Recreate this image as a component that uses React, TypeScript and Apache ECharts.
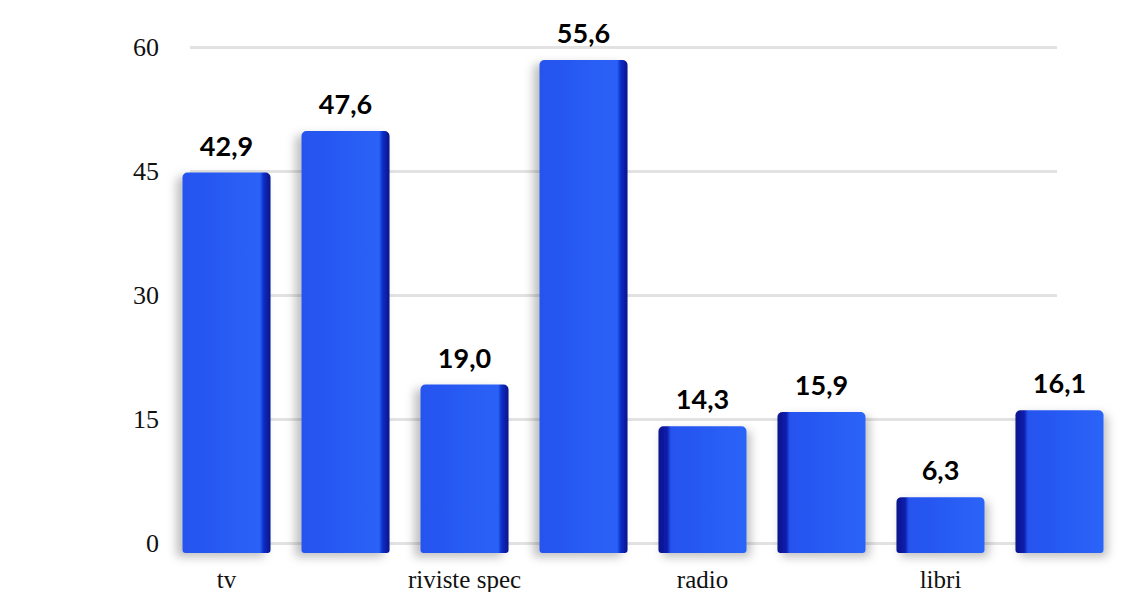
import React, { useEffect, useRef } from "react";
import * as echarts from "echarts";

const categories = ["tv", "", "riviste spec", "", "radio", "", "libri", ""];
const values = [42.9, 47.6, 19.0, 55.6, 14.3, 15.9, 6.3, 16.1];
const valueLabels = ["42,9", "47,6", "19,0", "55,6", "14,3", "15,9", "6,3", "16,1"];
const yTicks = [0, 15, 30, 45, 60];

function barColor(i: number) {
  const leftSide = i < 4;
  const stops = leftSide
    ? [
        { offset: 0, color: "#2553ee" },
        { offset: 0.88, color: "#2b62f7" },
        { offset: 0.92, color: "#1030c8" },
        { offset: 1, color: "#06118a" },
      ]
    : [
        { offset: 0, color: "#06118a" },
        { offset: 0.1, color: "#0c1fae" },
        { offset: 0.14, color: "#2553ee" },
        { offset: 1, color: "#2b64f8" },
      ];
  return new echarts.graphic.LinearGradient(0, 0, 1, 0, stops);
}

export default function App() {
  const ref = useRef<HTMLDivElement>(null);
  useEffect(() => {
    if (!ref.current) return;
    const chart = echarts.init(ref.current, null, { renderer: "svg" });
    chart.setOption({
      animation: false,
      backgroundColor: "#ffffff",
      grid: [
        { left: 190, right: 74, top: 47, bottom: 49 },
        { left: 167, right: 12, top: 21, bottom: 39 },
      ],
      xAxis: [
        {
          gridIndex: 0,
          type: "category",
          data: categories,
          show: false,
        },
        {
          gridIndex: 1,
          type: "category",
          data: categories,
          axisLine: { show: false },
          axisTick: { show: false },
          axisLabel: {
            interval: 0,
            margin: 14,
            color: "#111",
            fontFamily: "Liberation Serif",
            fontSize: 25,
          },
        },
      ],
      yAxis: [
        {
          gridIndex: 0,
          type: "value",
          min: 0,
          max: 60,
          interval: 15,
          axisLine: { show: false },
          axisTick: { show: false },
          axisLabel: {
            margin: 31,
            color: "#111",
            fontFamily: "Liberation Serif",
            fontSize: 26,
            formatter: (v: number) => (yTicks.includes(v) ? String(v) : ""),
          },
          splitLine: { lineStyle: { color: "#e2e2e2", width: 3 } },
        },
        {
          gridIndex: 1,
          type: "value",
          min: 0,
          max: 60,
          show: false,
          splitLine: { show: false },
        },
      ],
      series: [
        {
          type: "bar",
          xAxisIndex: 1,
          yAxisIndex: 1,
          barWidth: "74%",
          data: values.map((v, i) => ({
            value: v,
            itemStyle: {
              color: barColor(i),
              borderRadius: [5, 5, 3, 3],
              shadowColor: "rgba(0,0,0,0.25)",
              shadowBlur: 10,
              shadowOffsetX: i < 4 ? -6 : 4,
              shadowOffsetY: 4,
            },
          })),
          label: {
            show: true,
            position: "top",
            distance: 14,
            color: "#000",
            fontFamily: "Lato",
            fontWeight: "bold",
            fontSize: 27,
            formatter: (p: any) => valueLabels[p.dataIndex],
          },
        },
      ],
    });
    return () => chart.dispose();
  }, []);
  return (
    <div
      ref={ref}
      style={{ position: "absolute", left: 0, top: 0, width: 1131, height: 592 }}
    />
  );
}
